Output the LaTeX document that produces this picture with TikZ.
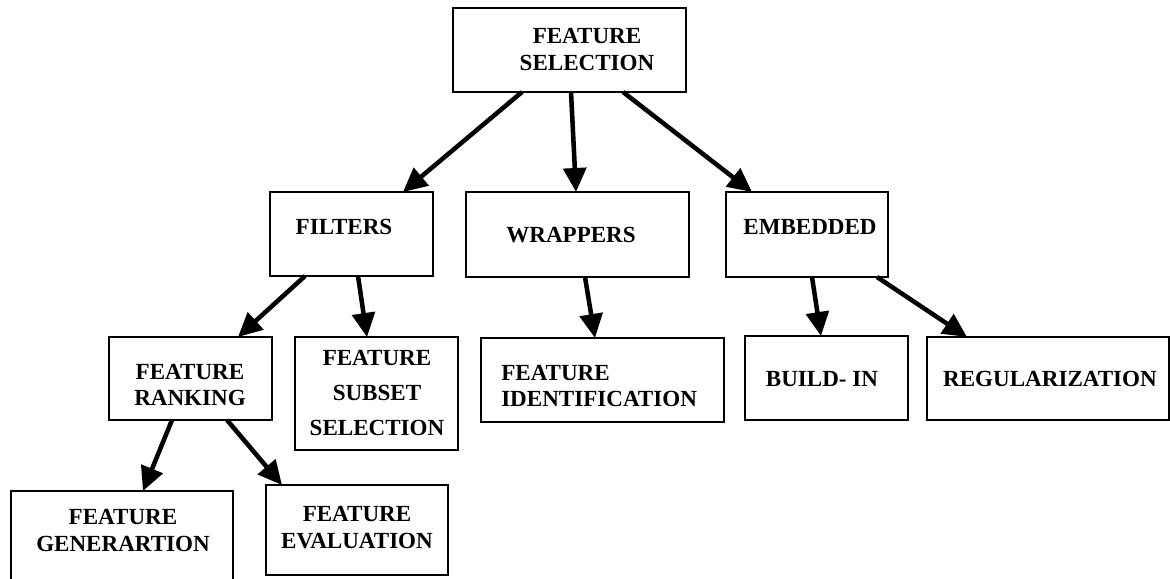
\documentclass[tikz,border=0pt]{standalone}
\usepackage{fontspec}
\setmainfont{Liberation Serif}
\usetikzlibrary{arrows.meta,calc}

\tikzset{
  box/.style 2 args={draw, line width=1.1pt, minimum width=#1*0.75pt,
    minimum height=#2*0.75pt, inner sep=0pt, outer sep=0pt},
  lbl/.style={font=\bfseries\fontsize{17.3}{20}\selectfont, inner sep=0pt, align=center},
  arr/.style={line width=3.4pt, -{Triangle[length=18pt,width=17pt]}},
}

\begin{document}
\begin{tikzpicture}[x=0.75pt, y=-0.75pt]
\useasboundingbox (0,0) rectangle (1170,578);
\clip (0,0) rectangle (1170,578);

% boxes
\node[box={233}{84}]  (top)      at (569.5,50)   {};
\node[box={163}{84}]  (filters)  at (351.5,234)  {};
\node[box={223}{85}]  (wrappers) at (577.5,234.5) {};
\node[box={162}{85}]  (embedded) at (807,234.5)  {};
\node[box={163}{83}]  (ranking)  at (190.5,378.5) {};
\node[box={163}{113}] (subset)   at (376.5,393.5) {};
\node[box={243}{84}]  (ident)    at (602.5,380)  {};
\node[box={163}{84}]  (buildin)  at (826.5,378)  {};
\node[box={242}{83}]  (regul)    at (1048,378.5) {};
\node[box={222}{118}] (gen)      at (122,550)    {};
\node[box={182}{90}]  (eval)     at (357,530)    {};

% labels
\node[lbl] (ttop)      at (587,49.5) {FEATURE\\SELECTION};
\node[lbl] (tfilters)  at (344,227)  {FILTERS};
\node[lbl] (twrappers) at (571,235)  {WRAPPERS};
\node[lbl] (tembedded) at (810,227)  {EMBEDDED};
\node[lbl] (tranking)  at (190,385)  {FEATURE\\RANKING};
\node[lbl, font=\bfseries\fontsize{17.3}{26}\selectfont] (tsubset) at (377,393) {FEATURE\\ SUBSET\\SELECTION};
\node[lbl, align=left, anchor=west] (tident) at (501,386) {FEATURE\\IDENTIFICATION};
\node[lbl] (tbuildin)  at (822,379)  {BUILD- IN};
\node[lbl] (tregul)    at (1050,379) {REGULARIZATION};
\node[lbl] (tgen)      at (123,530.5) {FEATURE\\GENERARTION};
\node[lbl] (teval)     at (357,527.5) {FEATURE\\EVALUATION};

% connectors
\draw[arr] ($(top.south west)+(69,0)$)  -- ($(filters.north west)+(133,0)$);
\draw[arr] ($(top.south west)+(118,0)$) -- ($(wrappers.north west)+(110,0)$);
\draw[arr] ($(top.south west)+(170,0)$) -- ($(embedded.north west)+(26,0)$);
\draw[arr] ($(filters.south west)+(35,0)$) -- ($(ranking.north west)+(129,0)$);
\draw[arr] ($(filters.south west)+(88,0)$) -- ($(subset.north west)+(72,0)$);
\draw[arr] ($(wrappers.south west)+(119,0)$) -- ($(ident.north west)+(114,0)$);
\draw[arr] ($(embedded.south west)+(86,0)$) -- ($(buildin.north west)+(76,0)$);
\draw[arr] ($(embedded.south west)+(151,0)$) -- ($(regul.north west)+(40,0)$);
\draw[arr] ($(ranking.south west)+(63,0)$) -- ($(gen.north west)+(132,0)$);
\draw[arr] ($(ranking.south west)+(118,0)$) -- ($(eval.north west)+(16,0)$);
\end{tikzpicture}
\end{document}
